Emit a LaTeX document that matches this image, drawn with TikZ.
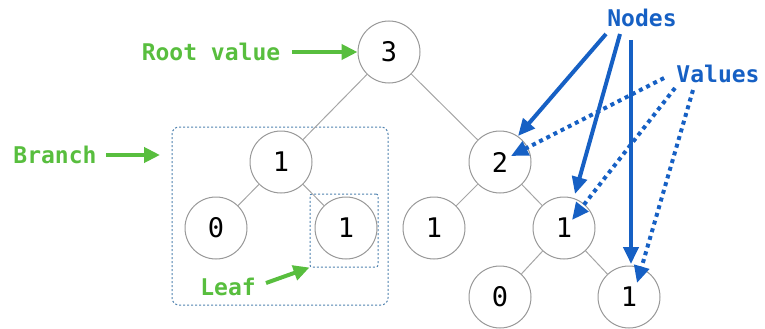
\documentclass[tikz,border=0pt]{standalone}
\usepackage{fontspec}
\setmonofont{DejaVu Sans Mono}
\usetikzlibrary{arrows.meta}
\definecolor{labelgreen}{RGB}{88,190,62}
\definecolor{labelblue}{RGB}{22,96,196}
\definecolor{boxblue}{RGB}{80,130,175}
\begin{document}
\begin{tikzpicture}[x=1pt, y=-1pt]
        \tikzstyle{vertex}=[draw=gray!80, circle, fill=white, line width=1pt,
            minimum size=62pt, inner sep=0pt, font=\ttfamily\fontsize{27}{27}\selectfont]
        \tikzstyle{edge}=[gray!70, line width=1pt]
        \tikzstyle{region}=[draw=boxblue, dash pattern=on 2pt off 2pt, line width=1pt, inner sep=0pt]
        \tikzstyle{greenlabel}=[labelgreen, font=\ttfamily\bfseries\fontsize{23}{23}\selectfont]
        \tikzstyle{bluelabel}=[labelblue, font=\ttfamily\bfseries\fontsize{23}{23}\selectfont]
        \tikzstyle{greenarrow}=[labelgreen, line width=4pt, -{Triangle[length=16pt, width=15pt]}]
        \tikzstyle{bluearrow}=[labelblue, line width=4pt, -{Triangle[length=17pt, width=15pt]}]
        \tikzstyle{valuearrow}=[labelblue, line width=4pt, dash pattern=on 4pt off 4pt,
            -{Triangle[length=17pt, width=15pt]}]

        \useasboundingbox (0, 0) rectangle (765, 329);

        % dotted regions
        \node[region, rounded corners=7pt, minimum width=216pt, minimum height=178pt] (branchbox) at (280, 216) {};
        \node[region, rounded corners=2pt, minimum width=68pt, minimum height=73pt] (leafbox) at (344, 230.5) {};

        \node[vertex] (n3) at (389, 52) {3};
        \node[vertex] (l1) at (281, 162) {1};
        \node[vertex] (l0) at (216, 228) {0};
        \node[vertex] (leaf) at (346, 228) {1};
        \node[vertex] (n2) at (500, 162) {2};
        \node[vertex] (m1) at (434, 228) {1};
        \node[vertex] (r1) at (564, 228) {1};
        \node[vertex] (r0) at (500, 297) {0};
        \node[vertex] (r11) at (629, 297) {1};

        \draw[edge] (n3) to (l1);
        \draw[edge] (n3) to (n2);
        \draw[edge] (l1) to (l0);
        \draw[edge] (l1) to (leaf);
        \draw[edge] (n2) to (m1);
        \draw[edge] (n2) to (r1);
        \draw[edge] (r1) to (r0);
        \draw[edge] (r1) to (r11);

        % green labels
        \node[greenlabel] (rootlabel) at (211, 52) {Root value};
        \node[greenlabel] (branchlabel) at (55, 155) {Branch};
        \node[greenlabel] (leaflabel) at (228, 287) {Leaf};
        \coordinate (branchtip) at (160, 155);

        \draw[greenarrow] (rootlabel.east) ++(8, 0) coordinate (roottail) -- (n3.west);
        \draw[greenarrow] (branchlabel.east) ++(6, 0) coordinate (branchtail) -- (branchtip);
        \draw[greenarrow] (266, 283) coordinate (leaftail) -- (leafbox.south west);

        % blue labels
        \node[bluelabel] (nodes) at (642, 18) {Nodes};
        \node[bluelabel] (values) at (718, 74) {Values};

        \coordinate (tip2) at (518, 136);
        \coordinate (tip1) at (575, 194);
        \coordinate (tip11) at (631, 264);
        \coordinate (vtip2) at (511, 156);
        \coordinate (vtip1) at (572, 220);
        \coordinate (vtip11) at (637, 283);

        \draw[bluearrow] (606, 34) to (tip2);
        \draw[bluearrow] (620, 34) to (tip1);
        \draw[bluearrow] (631, 40) to (tip11);
        \draw[valuearrow] (664, 78) to (vtip2);
        \draw[valuearrow] (675, 88) to (vtip1);
        \draw[valuearrow] (693, 90) to (vtip11);
    \end{tikzpicture}
\end{document}
